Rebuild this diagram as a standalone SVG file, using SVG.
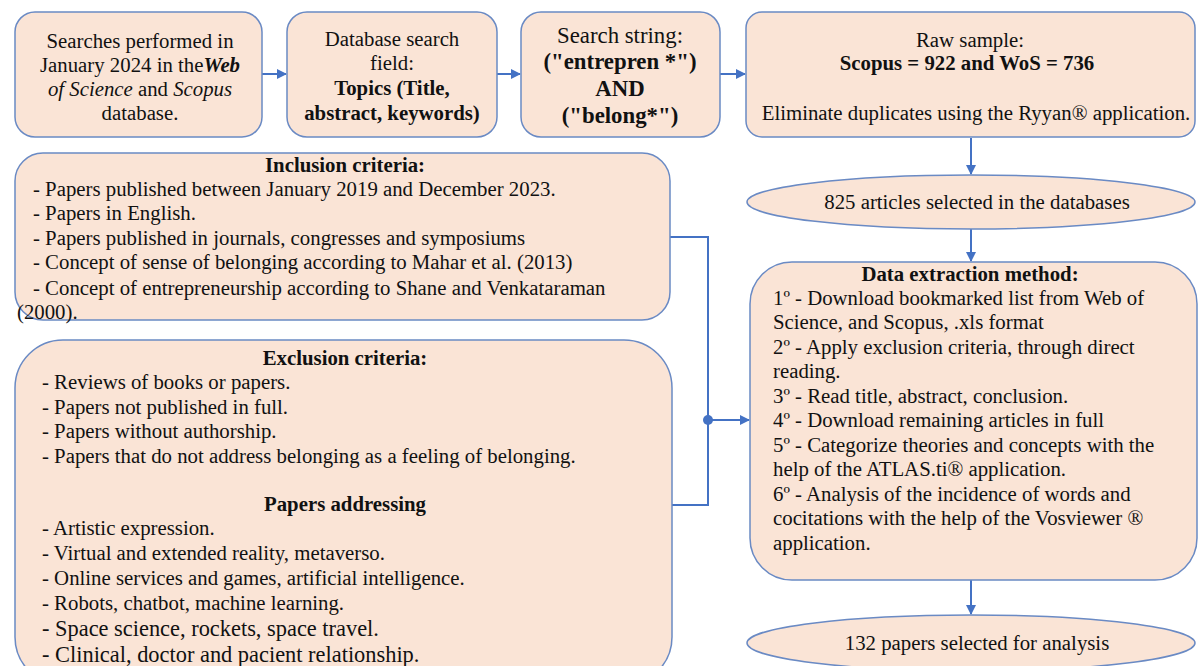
<svg xmlns="http://www.w3.org/2000/svg" width="1198" height="666" viewBox="0 0 1198 666">
<style>
.box{fill:#FAE4D6;stroke:#6A8AC4;stroke-width:1.5}
text{font-family:"Liberation Serif","Times New Roman",serif;font-size:20.8px;fill:#111}
.c{text-anchor:middle}
.b{font-weight:bold}
.i{font-style:italic}
.big{font-size:22.8px}
.lg{font-size:22.4px}
.conn{fill:none;stroke:#4472C4;stroke-width:2}
</style>
<defs>
<marker id="arr" viewBox="0 0 10 10" refX="9" refY="5" markerWidth="5" markerHeight="5" orient="auto" markerUnits="strokeWidth">
<path d="M0,0 L10,5 L0,10 z" fill="#4472C4"/>
</marker>
</defs>
<rect width="1198" height="666" fill="#ffffff"/>

<g id="connectors">
<line class="conn" x1="262" y1="74" x2="286" y2="74" marker-end="url(#arr)"/>
<line class="conn" x1="497" y1="74" x2="520" y2="74" marker-end="url(#arr)"/>
<line class="conn" x1="720" y1="74" x2="745" y2="74" marker-end="url(#arr)"/>
<line class="conn" x1="971" y1="138" x2="971" y2="174" marker-end="url(#arr)"/>
<line class="conn" x1="971" y1="229" x2="971" y2="261" marker-end="url(#arr)"/>
<line class="conn" x1="971" y1="580" x2="971" y2="614" marker-end="url(#arr)"/>
<polyline class="conn" points="670,237 708,237 708,505 672,505"/>
<line class="conn" x1="708" y1="420" x2="749" y2="420" marker-end="url(#arr)"/>
<circle cx="708" cy="420" r="5" fill="#4472C4"/>
</g>

<g id="node-searches">
<rect class="box" x="15" y="12" width="247" height="125" rx="20"/>
<text class="c" x="140" y="48">Searches performed in</text>
<text class="c" x="140" y="72">January 2024 in the<tspan class="b i">Web</tspan></text>
<text class="c" x="140" y="96"><tspan class="i">of Science</tspan> and <tspan class="i">Scopus</tspan></text>
<text class="c" x="140" y="120">database.</text>
</g>

<g id="node-field">
<rect class="box" x="287" y="12" width="210" height="125" rx="20"/>
<text class="c" x="392" y="46">Database search</text>
<text class="c" x="392" y="70">field:</text>
<text class="c b" x="392" y="95">Topics (Title,</text>
<text class="c b" x="392" y="120">abstract, keywords)</text>
</g>

<g id="node-string">
<rect class="box" x="521" y="12" width="199" height="125" rx="20"/>
<text class="c big" x="620" y="43">Search string:</text>
<text class="c b big" x="620" y="69">("entrepren *")</text>
<text class="c b big" x="620" y="96">AND</text>
<text class="c b big" x="620" y="123">("belong*")</text>
</g>

<g id="node-raw">
<rect class="box" x="746" y="12" width="449" height="125" rx="16"/>
<text class="c" x="970" y="47">Raw sample:</text>
<text class="c b" x="967" y="70">Scopus = 922 and WoS = 736</text>
<text class="c" x="976" y="120">Eliminate duplicates using the Ryyan® application.</text>
</g>

<g id="node-825">
<ellipse class="box" cx="971" cy="202" rx="224" ry="27"/>
<text class="c" x="977" y="209">825 articles selected in the databases</text>
</g>

<g id="node-inclusion">
<rect class="box" x="15" y="153" width="655" height="167" rx="28"/>
<text class="c b" x="345" y="172">Inclusion criteria:</text>
<text x="33" y="196">- Papers published between January 2019 and December 2023.</text>
<text x="33" y="220">- Papers in English.</text>
<text x="33" y="245">- Papers published in journals, congresses and symposiums</text>
<text x="33" y="269">- Concept of sense of belonging according to Mahar et al. (2013)</text>
<text x="33" y="295">- Concept of entrepreneurship according to Shane and Venkataraman</text>
<text x="17" y="319">(2000).</text>
</g>

<g id="node-exclusion">
<rect class="box" x="15" y="340" width="657" height="345" rx="48"/>
<text class="c b" x="345" y="365">Exclusion criteria:</text>
<text x="42" y="389">- Reviews of books or papers.</text>
<text x="42" y="414">- Papers not published in full.</text>
<text x="42" y="438">- Papers without authorship.</text>
<text x="42" y="463">- Papers that do not address belonging as a feeling of belonging.</text>
<text class="c b" x="345" y="511">Papers addressing</text>
<text x="42" y="535">- Artistic expression.</text>
<text x="42" y="560">- Virtual and extended reality, metaverso.</text>
<text x="42" y="585">- Online services and games, artificial intelligence.</text>
<text x="42" y="610">- Robots, chatbot, machine learning.</text>
<text class="lg" x="42" y="636">- Space science, rockets, space travel.</text>
<text class="lg" x="42" y="662">- Clinical, doctor and pacient relationship.</text>
</g>

<g id="node-extraction">
<rect class="box" x="750" y="262" width="447" height="318" rx="42"/>
<text class="c b" x="970" y="281">Data extraction method:</text>
<text x="773" y="305">1º - Download bookmarked list from Web of</text>
<text x="773" y="329">Science, and Scopus, .xls format</text>
<text x="773" y="354">2º - Apply exclusion criteria, through direct</text>
<text x="773" y="378">reading.</text>
<text x="773" y="403">3º - Read title, abstract, conclusion.</text>
<text x="773" y="427">4º - Download remaining articles in full</text>
<text x="773" y="452">5º - Categorize theories and concepts with the</text>
<text x="773" y="476">help of the ATLAS.ti® application.</text>
<text x="773" y="501">6º - Analysis of the incidence of words and</text>
<text x="773" y="525">cocitations with the help of the Vosviewer ®</text>
<text x="773" y="550">application.</text>
</g>

<g id="node-132">
<ellipse class="box" cx="971" cy="643" rx="224" ry="28"/>
<text class="c" x="977" y="650">132 papers selected for analysis</text>
</g>
</svg>
